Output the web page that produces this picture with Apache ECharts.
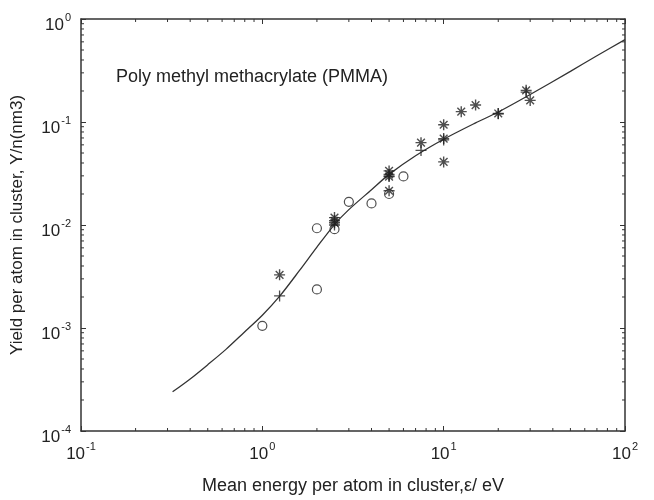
<!DOCTYPE html>
<html>
<head>
<meta charset="utf-8">
<script src="https://cdn.jsdelivr.net/npm/echarts@6/dist/echarts.min.js"></script>
<style>
  html, body { margin: 0; padding: 0; background: #fff; }
  #chart { width: 654px; height: 500px; }
</style>
</head>
<body>
<div id="chart"></div>
<script>
// fitted curve, yield per atom vs mean energy per atom
const curveData = [
  [0.32, 2.4e-4], [0.4, 3.2e-4], [0.5, 4.4e-4], [0.63, 6.2e-4], [0.79, 9.0e-4],
  [1.0, 1.33e-3], [1.25, 2.05e-3], [1.6, 3.6e-3], [2.0, 6.1e-3], [2.5, 1.01e-2],
  [3.0, 1.41e-2], [4.0, 2.2e-2], [5.0, 3.1e-2], [7.0, 4.7e-2], [10, 6.8e-2],
  [15, 9.8e-2], [20, 1.25e-1], [30, 1.85e-1], [50, 3.1e-1], [70, 4.4e-1], [100, 6.3e-1]
];
// open circles
const circleData = [
  [1.0, 1.05e-3], [2.0, 9.3e-3], [2.0, 2.37e-3], [2.5, 9.1e-3],
  [3.0, 1.68e-2], [4.0, 1.62e-2], [5.0, 2.0e-2], [6.0, 2.96e-2]
];
// asterisks
const starData = [
  [1.245, 3.28e-3], [2.5, 1.18e-2], [2.5, 1.1e-2], [2.5, 1.05e-2],
  [5, 3.35e-2], [5, 3.1e-2], [5, 2.95e-2], [5, 2.15e-2],
  [7.5, 6.3e-2], [10, 9.4e-2], [10, 6.9e-2], [10, 4.1e-2],
  [12.5, 1.26e-1], [15, 1.46e-1], [20, 1.21e-1], [28.5, 2.03e-1], [30, 1.62e-1]
];
// plus signs
const plusData = [
  [1.245, 2.05e-3], [2.5, 1.0e-2], [5, 3.0e-2], [7.5, 5.3e-2],
  [10, 6.7e-2], [20, 1.2e-1], [28.5, 1.95e-1]
];
const xMinor = [0.2,0.3,0.4,0.5,0.6,0.7,0.8,0.9, 2,3,4,5,6,7,8,9, 20,30,40,50,60,70,80,90];
const yMinor = [2e-4,3e-4,4e-4,5e-4,6e-4,7e-4,8e-4,9e-4, 2e-3,3e-3,4e-3,5e-3,6e-3,7e-3,8e-3,9e-3,
  2e-2,3e-2,4e-2,5e-2,6e-2,7e-2,8e-2,9e-2, 2e-1,3e-1,4e-1,5e-1,6e-1,7e-1,8e-1,9e-1];

const X_MIN = 0.1, X_MAX = 100, Y_MIN = 1e-4, Y_MAX = 1;
const fontFam = 'Liberation Sans, Arial, Helvetica, sans-serif';
const ink = '#222';

const chart = echarts.init(document.getElementById('chart'));

function powLabel (value) {
  const e = Math.round(Math.log10(value));
  return '{b|10}{s|' + e + '}';
}
const labelRich = {
  b: { fontSize: 17, fontFamily: fontFam, color: ink, lineHeight: 22, verticalAlign: 'bottom' },
  s: { fontSize: 11, fontFamily: fontFam, color: ink, lineHeight: 22, verticalAlign: 'top', padding: [0, 0, 0, 1] }
};

function logAxis (pos, min, max, showLabel, extra) {
  return Object.assign({
    type: 'log',
    logBase: 10,
    position: pos,
    min: min,
    max: max,
    axisLine: { show: true, onZero: false, lineStyle: { color: '#333', width: 1.5 } },
    axisTick: { show: true, inside: true, length: 5, lineStyle: { color: '#333', width: 1 } },
    splitLine: { show: false },
    minorTick: { show: false },
    axisLabel: showLabel ? { show: true, formatter: powLabel, rich: labelRich, margin: 10 } : { show: false }
  }, extra || {});
}

// short inward tick marks at 2..9 of each decade, on all four sides
function minorTickX (params, api) {
  const v = api.value(0);
  const b = api.coord([v, Y_MIN]);
  const t = api.coord([v, Y_MAX]);
  const st = { stroke: '#333', lineWidth: 1 };
  return { type: 'group', children: [
    { type: 'line', shape: { x1: b[0], y1: b[1], x2: b[0], y2: b[1] - 3 }, style: st },
    { type: 'line', shape: { x1: t[0], y1: t[1], x2: t[0], y2: t[1] + 3 }, style: st }
  ]};
}
function minorTickY (params, api) {
  const v = api.value(1);
  const l = api.coord([X_MIN, v]);
  const r = api.coord([X_MAX, v]);
  const st = { stroke: '#333', lineWidth: 1 };
  return { type: 'group', children: [
    { type: 'line', shape: { x1: l[0], y1: l[1], x2: l[0] + 3, y2: l[1] }, style: st },
    { type: 'line', shape: { x1: r[0], y1: r[1], x2: r[0] - 3, y2: r[1] }, style: st }
  ]};
}

const option = {
  animation: false,
  backgroundColor: '#fff',
  textStyle: { fontFamily: fontFam },
  title: {
    text: 'Poly methyl methacrylate (PMMA)',
    left: 111,
    top: 63,
    textStyle: { fontSize: 18, fontWeight: 'normal', fontFamily: fontFam, color: ink }
  },
  grid: { left: 81, right: 29, top: 19, bottom: 58 },
  xAxis: [
    logAxis('bottom', X_MIN, X_MAX, true, {
      name: 'Mean energy per atom in cluster,ε/ eV',
      nameLocation: 'middle',
      nameGap: 46,
      nameTextStyle: { fontSize: 18, fontFamily: fontFam, color: ink }
    }),
    logAxis('top', X_MIN, X_MAX, false)
  ],
  yAxis: [
    logAxis('left', Y_MIN, Y_MAX, true, {
      name: 'Yield per atom in cluster, Y/n(nm3)',
      nameLocation: 'middle',
      nameGap: 55,
      nameRotate: 90,
      nameTextStyle: { fontSize: 17, fontFamily: fontFam, color: ink },
      axisLabel: { show: true, formatter: powLabel, rich: labelRich, margin: 10, padding: [8, 0, 0, 0] }
    }),
    logAxis('right', Y_MIN, Y_MAX, false)
  ],
  series: [
    {
      type: 'line',
      data: curveData,
      smooth: 0.3,
      showSymbol: false,
      symbol: 'none',
      lineStyle: { color: '#333', width: 1.3 },
      z: 2
    },
    {
      type: 'scatter',
      data: circleData,
      symbol: 'circle',
      symbolSize: 9,
      itemStyle: { color: 'rgba(255,255,255,0)', borderColor: ink, borderWidth: 1.2 },
      z: 3
    },
    {
      type: 'scatter',
      data: starData,
      symbol: 'path://M5,0L5,10M0,5L10,5M1.5,1.5L8.5,8.5M8.5,1.5L1.5,8.5',
      symbolSize: 11,
      itemStyle: { color: 'rgba(0,0,0,0)', borderColor: ink, borderWidth: 1.4 },
      z: 4
    },
    {
      type: 'scatter',
      data: plusData,
      symbol: 'path://M5,0L5,10M0,5L10,5',
      symbolSize: 11,
      itemStyle: { color: 'rgba(0,0,0,0)', borderColor: ink, borderWidth: 1.3 },
      z: 4
    },
    {
      type: 'custom',
      silent: true,
      clip: false,
      renderItem: minorTickX,
      data: xMinor.map(v => [v, Y_MIN]),
      z: 5
    },
    {
      type: 'custom',
      silent: true,
      clip: false,
      renderItem: minorTickY,
      data: yMinor.map(v => [X_MIN, v]),
      z: 5
    }
  ]
};

chart.setOption(option);
</script>
</body>
</html>
